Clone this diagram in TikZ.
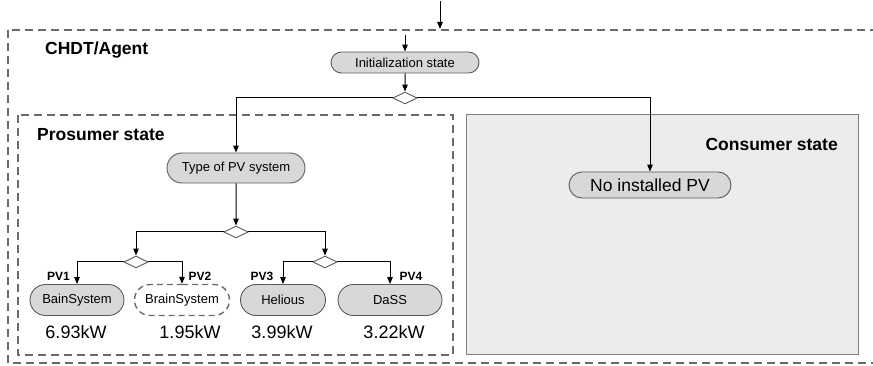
\documentclass[tikz,border=0pt]{standalone}
\usepackage{fontspec}
\setmainfont{Liberation Sans}
\usetikzlibrary{shapes.misc,shapes.geometric,arrows.meta}
\definecolor{pillfill}{HTML}{D8D8D8}
\definecolor{pilledge}{HTML}{5A5A5A}
\definecolor{regionfill}{HTML}{EBECEC}
\definecolor{regionedge}{HTML}{7F7F7F}
\definecolor{dashgray}{HTML}{6A6A6A}
\begin{document}
\begin{tikzpicture}[x=1pt,y=-1pt,
  pill/.style={rounded rectangle, draw=pilledge, fill=pillfill, line width=0.9pt,
    inner sep=0pt, font=\fontsize{13}{15}\selectfont},
  pilldash/.style={pill, fill=white, draw=dashgray, line width=1.4pt,
    dash pattern=on 6pt off 4pt},
  decision/.style={diamond, aspect=2, draw=pilledge, fill=white, line width=0.9pt,
    inner sep=0pt, minimum width=24pt, minimum height=12pt},
  flow/.style={-{Triangle[length=7pt,width=5.5pt]}, line width=1pt, draw=black},
  region/.style={draw=dashgray, line width=1.6pt, dash pattern=on 8pt off 5pt},
  header/.style={font=\fontsize{17.5}{20}\selectfont\bfseries, inner sep=0pt},
  pvlabel/.style={font=\fontsize{12}{14}\selectfont\bfseries, inner sep=0pt},
  power/.style={font=\fontsize{18}{20}\selectfont, inner sep=0pt}]

\useasboundingbox (0,0) rectangle (873,366);
\clip (0,0) rectangle (873,366);

% regions
\draw[region] (8,30) rectangle (890,363);
\draw[region] (18,115) rectangle (453,355);
\draw[draw=regionedge, fill=regionfill, line width=1pt] (466,115) rectangle (858,354);

\node[header, anchor=west] (agent) at (45,50) {CHDT/Agent};
\node[header, anchor=west] (prosumer) at (37,135) {Prosumer state};
\node[header, anchor=east] (consumer) at (838,144) {Consumer state};

% states
\node[pill, minimum width=148pt, minimum height=21pt] (init) at (405,62.5) {Initialization state};
\node[pill, minimum width=138pt, minimum height=30pt] (type) at (236,168) {Type of PV system};
\node[pill, minimum width=162pt, minimum height=26pt,
      font=\fontsize{17.5}{20}\selectfont] (nopv) at (650,185) {No installed PV};

\node[pill, minimum width=94pt, minimum height=31pt] (bain) at (77,300) {BainSystem};
\node[pilldash, minimum width=95pt, minimum height=31pt] (brain) at (182,300) {BrainSystem};
\node[pill, minimum width=85pt, minimum height=31pt] (hel) at (283,300) {Helious};
\node[pill, minimum width=104pt, minimum height=31pt] (dass) at (390,300) {DaSS};

% decisions
\node[decision] (d0) at (405,98) {};
\node[decision] (d1) at (236,232) {};
\node[decision] (d2) at (136,262) {};
\node[decision] (d3) at (325,262) {};

% entry arrows
\coordinate (src0) at (440,1);
\coordinate (src0end) at (440,29);
\coordinate (src1) at (405,35);
\draw[flow] (src0) -- (src0end);
\draw[flow] (src1) -- (init.north);

% flow
\draw[flow] (init) -- (d0);
\draw[flow] (d0.west) -| (type.north);
\draw[flow] (d0.east) -| (nopv.north);
\draw[flow] (type) -- (d1);
\draw[flow] (d1.west) -| (d2.north);
\draw[flow] (d1.east) -| (d3.north);
\draw[flow] (d2.west) -| (bain.north);
\draw[flow] (d2.east) -| (brain.north);
\draw[flow] (d3.west) -| (hel.north);
\draw[flow] (d3.east) -| (dass.north);

% labels
\node[pvlabel] (pv1) at (58.5,276) {PV1};
\node[pvlabel] (pv2) at (200,276) {PV2};
\node[pvlabel] (pv3) at (262,276) {PV3};
\node[pvlabel] (pv4) at (411,276) {PV4};

\node[power] (p1) at (76,332) {6.93kW};
\node[power] (p2) at (190,332) {1.95kW};
\node[power] (p3) at (282,332) {3.99kW};
\node[power] (p4) at (394,332) {3.22kW};
\end{tikzpicture}
\end{document}
